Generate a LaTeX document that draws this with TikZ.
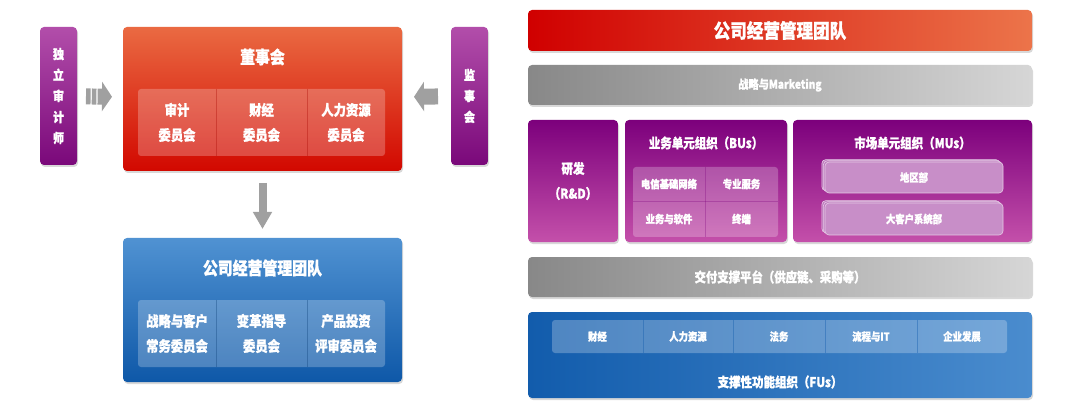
\documentclass[tikz,border=0pt]{standalone}
\usepackage{fontspec}
\newfontfamily\cjk{Noto Sans CJK SC}[FakeStretch=0.85,BoldFeatures={FakeBold=1.2}]
\usetikzlibrary{shadows,arrows.meta}
\definecolor{sidetop}{RGB}{178,78,170}
\definecolor{sidebot}{RGB}{122,8,122}
\definecolor{boardtop}{RGB}{234,106,66}
\definecolor{boardbot}{RGB}{210,8,0}
\definecolor{mgmttop}{RGB}{80,146,210}
\definecolor{mgmtbot}{RGB}{14,88,168}
\definecolor{teamleft}{RGB}{208,0,0}
\definecolor{teamright}{RGB}{236,116,74}
\definecolor{barleft}{RGB}{136,136,136}
\definecolor{barright}{RGB}{214,214,214}
\definecolor{unittop}{RGB}{124,0,124}
\definecolor{unitbot}{RGB}{196,80,170}
\definecolor{mufill}{RGB}{200,142,200}
\definecolor{fuleft}{RGB}{18,92,172}
\definecolor{furight}{RGB}{74,140,206}
\definecolor{arrowgray}{RGB}{160,160,160}
\begin{document}
\begin{tikzpicture}[x=1pt,y=-1pt,
  box/.style={rounded corners=4pt,inner sep=0pt,outer sep=0pt,text=white,align=center,
    drop shadow={opacity=0.3,shadow xshift=1pt,shadow yshift=-2pt}},
  sidebox/.style={box,top color=sidetop,bottom color=sidebot,minimum width=37pt,minimum height=138pt,
    font=\cjk\bfseries\fontsize{13}{21}\selectfont},
  strip/.style={rounded corners=3pt,inner sep=0pt,fill=white,fill opacity=0.24},
  cell/.style={inner sep=0pt,text=white,align=center},
  bigcell/.style={cell,minimum height=67pt,font=\cjk\bfseries\fontsize{14.5}{25}\selectfont},
  smallcell/.style={cell,font=\cjk\bfseries\fontsize{11}{13}\selectfont},
  title/.style={inner sep=0pt,text=white,font=\cjk\bfseries\fontsize{17.5}{20}\selectfont},
  unittitle/.style={inner sep=0pt,text=white,font=\cjk\bfseries\fontsize{13.5}{16}\selectfont},
  bar/.style={box,left color=barleft,right color=barright,minimum width=504pt,minimum height=40pt},
  unit/.style={box,top color=unittop,bottom color=unitbot,minimum height=122pt},
  mubox/.style={rounded corners=4pt,inner sep=0pt,fill=mufill,draw=white!55!mufill,line width=0.6pt,
    minimum width=178pt,text=white,font=\cjk\bfseries\fontsize{11}{13}\selectfont,
    double copy shadow={shadow xshift=-1.6pt,shadow yshift=1.2pt,fill=mufill!85!unittop,draw=white!55!mufill,line width=0.6pt}},
  blockarr/.style={draw=arrowgray,line width=16pt,-{Triangle[width=29pt,length=10pt]}},
  divider/.style={line width=0.7pt}]
\path[use as bounding box] (0,0) rectangle (1080,409);
\fill[white] (0,0) rectangle (1080,409);

% governance side
\node[sidebox] (auditor) at (58.5,96) {独\\立\\审\\计\\师};
\node[sidebox] (supervisor) at (469.5,96) {监\\事\\会};
\node[box,top color=boardtop,bottom color=boardbot,minimum width=279pt,minimum height=144pt] (board) at (262.5,99) {};
\node[title] (boardtitle) at (262.5,57) {董事会};
\node[strip,minimum width=247pt,minimum height=67pt] (boardstrip) at (261.5,122.5) {};
\node[bigcell,minimum width=78pt] (audit) at (177,122.5) {审计\\委员会};
\node[bigcell,minimum width=91pt] (finance) at (261.5,122.5) {财经\\委员会};
\node[bigcell,minimum width=78pt] (hr) at (346,122.5) {人力资源\\委员会};
\draw[divider,draw=boardbot!80!black,opacity=0.35] (audit.north east) -- (audit.south east);
\draw[divider,draw=boardbot!80!black,opacity=0.35] (finance.north east) -- (finance.south east);

\node[box,top color=mgmttop,bottom color=mgmtbot,minimum width=279pt,minimum height=144pt] (mgmt) at (262.5,310) {};
\node[title] (mgmttitle) at (262.5,268) {公司经营管理团队};
\node[strip,minimum width=247pt,minimum height=67pt] (mgmtstrip) at (261.5,333.5) {};
\node[bigcell,minimum width=78pt] (strategy) at (177,333.5) {战略与客户\\常务委员会};
\node[bigcell,minimum width=91pt] (change) at (261.5,333.5) {变革指导\\委员会};
\node[bigcell,minimum width=78pt] (invest) at (346,333.5) {产品投资\\评审委员会};
\draw[divider,draw=mgmtbot!70!black,opacity=0.35] (strategy.north east) -- (strategy.south east);
\draw[divider,draw=mgmtbot!70!black,opacity=0.35] (change.north east) -- (change.south east);

\draw[blockarr,dash pattern=on 4.6pt off 1.2pt,shorten <=9pt,shorten >=11pt] (auditor) -- (board);
\draw[blockarr,shorten <=13pt,shorten >=12pt] (supervisor) -- (board);
\draw[draw=arrowgray,line width=8pt,-{Triangle[width=18pt,length=17pt]},shorten <=12pt,shorten >=9pt]
  (board.south) -- (mgmt.north);

% organisation side
\node[box,left color=teamleft,right color=teamright,minimum width=504pt,minimum height=41pt,
  font=\cjk\bfseries\fontsize{19.5}{22}\selectfont] (team) at (780,30.5) {公司经营管理团队};
\node[bar,font=\cjk\bfseries\fontsize{12}{14}\selectfont] (marketing) at (780,85) {战略与Marketing};

\node[unit,minimum width=90pt,font=\cjk\bfseries\fontsize{13.5}{25}\selectfont] (rd) at (573,181) {研发\\（R\&D）};
\node[unit,minimum width=162pt] (bus) at (706,181) {};
\node[unittitle] (bustitle) at (706,143) {业务单元组织（BUs）};
\node[strip,minimum width=145pt,minimum height=70pt] (bustrip) at (705.5,202) {};
\node[smallcell,minimum width=72pt,minimum height=34pt] (telecom) at (669,184) {电信基础网络};
\node[smallcell,minimum width=73pt,minimum height=34pt] (service) at (741.5,184) {专业服务};
\node[smallcell,minimum width=72pt,minimum height=36pt] (software) at (669,219) {业务与软件};
\node[smallcell,minimum width=73pt,minimum height=36pt] (terminal) at (741.5,219) {终端};
\draw[divider,draw=unittop,opacity=0.3] (telecom.north east) -- (software.south east);
\draw[divider,draw=unittop,opacity=0.3] (telecom.south west) -- (service.south east);

\node[unit,minimum width=239pt] (mus) at (912.5,181) {};
\node[unittitle] (mustitle) at (912.5,143) {市场单元组织（MUs）};
\node[mubox,minimum height=31pt] (region) at (914,177.5) {地区部};
\node[mubox,minimum height=32pt] (keyacct) at (914,219) {大客户系统部};

\node[bar,font=\cjk\bfseries\fontsize{13.4}{16}\selectfont] (delivery) at (780,277) {交付支撑平台（供应链、采购等）};

\node[box,left color=fuleft,right color=furight,minimum width=504pt,minimum height=86pt] (fus) at (780,355) {};
\node[strip,minimum width=455pt,minimum height=33pt,fill opacity=0.25] (fustrip) at (779.5,336.5) {};
\node[smallcell,minimum width=91pt,minimum height=33pt] (fufinance) at (597.5,336.5) {财经};
\node[smallcell,minimum width=90pt,minimum height=33pt] (fuhr) at (688,336.5) {人力资源};
\node[smallcell,minimum width=92pt,minimum height=33pt] (legal) at (779,336.5) {法务};
\node[smallcell,minimum width=92pt,minimum height=33pt] (process) at (871,336.5) {流程与IT};
\node[smallcell,minimum width=90pt,minimum height=33pt] (develop) at (962,336.5) {企业发展};
\foreach \c in {fufinance,fuhr,legal,process}
  \draw[divider,draw=fuleft,opacity=0.4] (\c.north east) -- (\c.south east);
\node[unittitle] (fustitle) at (780,382) {支撑性功能组织（FUs）};
\end{tikzpicture}
\end{document}
